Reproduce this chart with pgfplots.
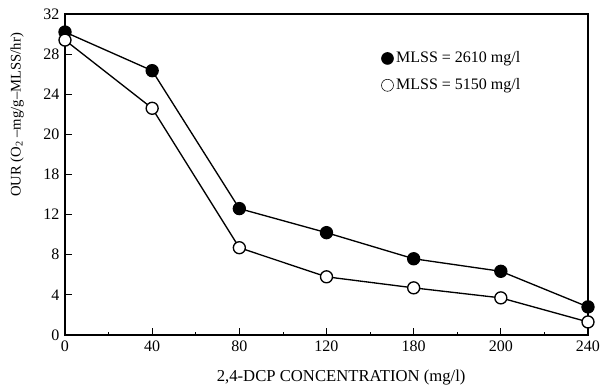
\documentclass[border=0pt]{standalone}
\usepackage{pgfplots}
\pgfplotsset{compat=1.18}
\usepackage{fontspec}
\setmainfont{Liberation Serif}
\begin{document}
\fontsize{12}{14}\selectfont
\begin{tikzpicture}
\begin{axis}[
  at={(0,0)}, anchor=south west,
  scale only axis,
  width=392.25pt, height=240.75pt,
  xmin=0, xmax=6, ymin=0, ymax=32,
  xtick={0,1,2,3,4,5,6},
  xticklabels={0,40,80,120,180,200,240},
  ytick={0,4,8,12,16,20,24,28,32},
  yticklabels={0,4,8,12,18,20,24,28,32},
  minor x tick num=1,
  tick pos=left,
  tick align=inside,
  major tick length=5pt,
  minor tick length=2.5pt,
  axis line style={line width=1pt},
  tick style={black, line width=0.6pt},
  tick label style={font=\fontsize{12}{14}\selectfont},
  /pgf/number format/assume math mode=true,
  xlabel={2,4-DCP CONCENTRATION (mg/l)},
  ylabel={OUR (O\textsubscript{2} --mg/g--MLSS/hr)},
  xlabel style={at={(axis description cs:0.5,0)}, anchor=center, yshift=-32.25pt, xshift=11pt, font=\fontsize{12.5}{14}\selectfont},
  ylabel style={at={(axis description cs:0,0.5)}, anchor=center, xshift=44.6pt, yshift=36pt, font=\fontsize{11}{13}\selectfont},
  legend style={at={(rel axis cs:0.597,0.90)}, anchor=north west, draw=none, fill=none,
    row sep=6pt, font=\fontsize{12}{14}\selectfont},
  legend cell align=left,
  clip=false,
]
\addplot[black, line width=1pt, mark=*, mark size=4.5pt, mark options={fill=black}, forget plot]
  coordinates {(0,30.2) (1,26.35) (2,12.6) (3,10.2) (4,7.6) (5,6.35) (6,2.8)};
\addplot[black, line width=1pt, mark=*, mark size=4.5pt, mark options={fill=white}, forget plot]
  coordinates {(0,29.4) (1,22.6) (2,8.7) (3,5.8) (4,4.7) (5,3.7) (6,1.3)};
\addlegendimage{only marks, mark=*, mark size=4.5pt, black, mark options={fill=black}}
\addlegendentry{MLSS = 2610 mg/l}
\addlegendimage{only marks, mark=*, mark size=4.5pt, black, mark options={fill=white}}
\addlegendentry{MLSS = 5150 mg/l}
\end{axis}
\pgfresetboundingbox
\path[use as bounding box] (-48.75pt,-39.75pt) rectangle (402pt,251.25pt);
\end{tikzpicture}
\end{document}
